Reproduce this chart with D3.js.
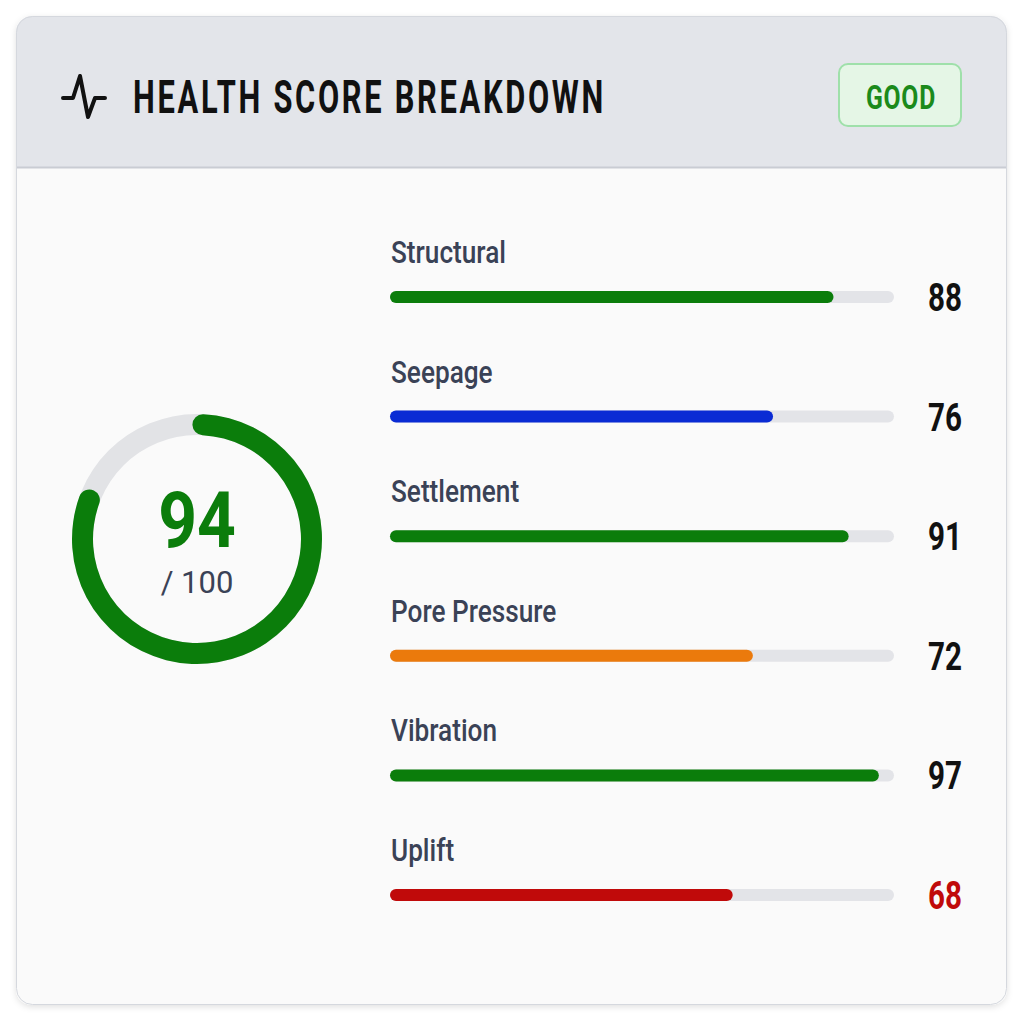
<!DOCTYPE html>
<html>
<head>
<meta charset="utf-8">
<script src="https://cdn.jsdelivr.net/npm/d3@7"></script>
<style>
    html, body { margin: 0; padding: 0; background: #ffffff; }
    svg { display: block; }
</style>
</head>
<body>
<div id="chart"></div>
<script>
// Chart values
const categories = ["Structural", "Seepage", "Settlement", "Pore Pressure", "Vibration", "Uplift"];
const scores = [88, 76, 91, 72, 97, 68];
const barColors = ["#0b7d0b", "#0a2bd4", "#0b7d0b", "#eb7a0c", "#0b7d0b", "#c00a0a"];
const valueColors = ["#111111", "#111111", "#111111", "#111111", "#111111", "#c00a0a"];
const overallScore = [94];
const overallMax = [100];
const statusLabel = ["GOOD"];
const title = ["HEALTH SCORE BREAKDOWN"];

const W = 1024, H = 1024;
const font = "Roboto, 'Noto Sans', 'DejaVu Sans', sans-serif";

const svg = d3.select("#chart")
    .append("svg")
    .attr("width", W)
    .attr("height", H);

// squeeze a text horizontally so it reads like a condensed face
function condense(text, x, y, targetWidth) {
    const len = text.node().getComputedTextLength();
    const sx = targetWidth / len;
    text.attr("x", 0).attr("y", 0)
        .attr("transform", `translate(${x},${y}) scale(${sx},1)`);
    return sx;
}

const defs = svg.append("defs");
const shadow = defs.append("filter")
    .attr("id", "shadow")
    .attr("x", "-5%").attr("y", "-5%")
    .attr("width", "110%").attr("height", "110%");
shadow.append("feDropShadow")
    .attr("dx", 0).attr("dy", 2)
    .attr("stdDeviation", 3)
    .attr("flood-color", "#000")
    .attr("flood-opacity", 0.12);

const clip = defs.append("clipPath").attr("id", "cardClip");
clip.append("rect")
    .attr("x", 16).attr("y", 16)
    .attr("width", 991).attr("height", 989)
    .attr("rx", 16);

// Card
svg.append("rect")
    .attr("x", 16).attr("y", 16)
    .attr("width", 991).attr("height", 989)
    .attr("rx", 16)
    .attr("fill", "#fafafa")
    .attr("filter", "url(#shadow)");

const card = svg.append("g").attr("clip-path", "url(#cardClip)");

card.append("rect")
    .attr("x", 16).attr("y", 16)
    .attr("width", 991).attr("height", 151)
    .attr("fill", "#e3e5ea");

card.append("line")
    .attr("x1", 16).attr("x2", 1007)
    .attr("y1", 167.5).attr("y2", 167.5)
    .attr("stroke", "#c9ccd3")
    .attr("stroke-width", 2);

svg.append("rect")
    .attr("x", 16.5).attr("y", 16.5)
    .attr("width", 990).attr("height", 988)
    .attr("rx", 16)
    .attr("fill", "none")
    .attr("stroke", "#d5d8de");

// Header: pulse icon + title
svg.append("path")
    .attr("d", "M63,98 L73,98 L80,76 L88,117 L95,98 L105,98")
    .attr("fill", "none")
    .attr("stroke", "#111")
    .attr("stroke-width", 4)
    .attr("stroke-linejoin", "round")
    .attr("stroke-linecap", "round");

const titleText = svg.append("text")
    .attr("font-family", font)
    .attr("font-weight", 700)
    .attr("font-size", 46)
    .attr("letter-spacing", 4)
    .attr("fill", "#111")
    .text(title[0]);
condense(titleText, 133, 113, 473);

// Status badge
svg.append("rect")
    .attr("x", 839).attr("y", 64)
    .attr("width", 122).attr("height", 62)
    .attr("rx", 9)
    .attr("fill", "#e5f6e6")
    .attr("stroke", "#9fe0aa")
    .attr("stroke-width", 2);

const badgeText = svg.append("text")
    .attr("font-family", font)
    .attr("font-weight", 700)
    .attr("font-size", 34)
    .attr("letter-spacing", 1)
    .attr("fill", "#1b8a1b")
    .text(statusLabel[0]);
condense(badgeText, 866, 109, 70);

// Overall ring (arc follows the mean of the component scores, as drawn)
const ringCx = 197, ringCy = 539;
const ringScale = d3.scaleLinear().domain([0, overallMax[0]]).range([0, 2 * Math.PI]);
const ringValue = d3.mean(scores);

const ring = svg.append("g").attr("transform", `translate(${ringCx},${ringCy})`);
const arc = d3.arc().innerRadius(104).outerRadius(125).cornerRadius(10.5);

ring.append("path")
    .attr("d", arc({startAngle: 0, endAngle: 2 * Math.PI}))
    .attr("fill", "#e2e3e6");

ring.append("path")
    .attr("d", arc({startAngle: -0.04, endAngle: ringScale(ringValue)}))
    .attr("fill", "#0b7d0b");

ring.append("text")
    .attr("text-anchor", "middle")
    .attr("font-family", font)
    .attr("font-weight", 700)
    .attr("font-size", 77)
    .attr("fill", "#0b7d0b")
    .attr("transform", "translate(0,8) scale(0.88,1)")
    .text(overallScore[0]);

ring.append("text")
    .attr("x", 0)
    .attr("y", 54)
    .attr("text-anchor", "middle")
    .attr("font-family", font)
    .attr("font-weight", 400)
    .attr("font-size", 31)
    .attr("fill", "#3a4256")
    .text(`/ ${overallMax[0]}`);

// Component bars
const x = d3.scaleLinear().domain([0, 100]).range([390, 894]);
const y = d3.scalePoint().domain(categories).range([297, 895]);
const barH = 12;

const rows = svg.append("g")
    .selectAll("g")
    .data(categories)
    .join("g")
    .attr("transform", d => `translate(0,${y(d)})`);

const labels = rows.append("text")
    .attr("font-family", font)
    .attr("font-weight", 500)
    .attr("font-size", 31)
    .attr("fill", "#3a4256")
    .text(d => d);
// one squeeze factor for every label, taken from the first one
const labelSx = 115 / labels.node().getComputedTextLength();
labels.attr("transform", `translate(391,-34) scale(${labelSx},1)`);

rows.append("rect")
    .attr("x", x(0))
    .attr("y", -barH / 2)
    .attr("width", x(100) - x(0))
    .attr("height", barH)
    .attr("rx", barH / 2)
    .attr("fill", "#e3e4e8");

rows.append("rect")
    .attr("x", x(0))
    .attr("y", -barH / 2)
    .attr("width", (d, i) => x(scores[i]) - x(0))
    .attr("height", barH)
    .attr("rx", barH / 2)
    .attr("fill", (d, i) => barColors[i]);

const values = rows.append("text")
    .attr("text-anchor", "end")
    .attr("font-family", font)
    .attr("font-weight", 700)
    .attr("font-size", 38)
    .attr("fill", (d, i) => valueColors[i])
    .text((d, i) => scores[i]);
const valueSx = 34 / values.node().getComputedTextLength();
values.attr("transform", `translate(962,14) scale(${valueSx},1)`);
</script>
</body>
</html>
